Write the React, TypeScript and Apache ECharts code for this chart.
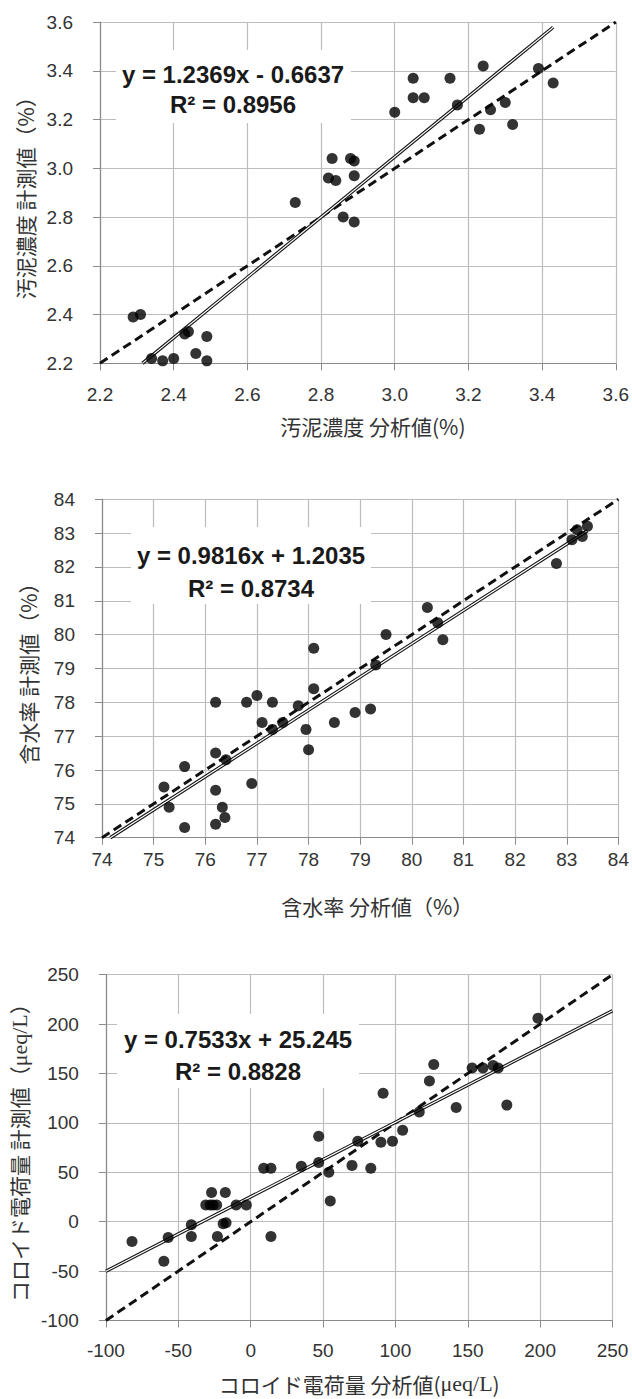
import React, { useEffect, useRef } from "react";
import * as echarts from "echarts";

// ---- Chart 1: 汚泥濃度 ----
const sludgeX = [2.29, 2.31, 2.34, 2.37, 2.40, 2.43, 2.44, 2.46, 2.49, 2.49, 2.73, 2.82, 2.83, 2.84, 2.86, 2.88, 2.89, 2.89, 2.89, 3.00, 3.05, 3.05, 3.08, 3.15, 3.17, 3.24, 3.23, 3.26, 3.30, 3.32, 3.39, 3.43];
const sludgeY = [2.39, 2.40, 2.22, 2.21, 2.22, 2.32, 2.33, 2.24, 2.31, 2.21, 2.86, 2.96, 3.04, 2.95, 2.80, 3.04, 3.03, 2.97, 2.78, 3.23, 3.37, 3.29, 3.29, 3.37, 3.26, 3.42, 3.16, 3.24, 3.27, 3.18, 3.41, 3.35];
const sludgeFit = [1.2369, -0.6637];
const sludgeR2 = "0.8956";
const sludgeFitRange = [2.315, 3.43];
const sludgeAxis = [2.2, 3.6, 0.2];

// ---- Chart 2: 含水率 ----
const waterX = [76.2, 76.8, 77.0, 77.3, 77.1, 77.3, 77.5, 77.8, 78.1, 77.95, 78.0, 78.5, 78.9, 79.2, 76.2, 76.4, 75.6, 75.2, 75.3, 75.6, 76.2, 76.9, 76.33, 76.38, 76.2, 78.1, 79.3, 79.5, 80.3, 80.5, 80.6, 82.8, 83.1, 83.2, 83.3, 83.4];
const waterY = [78.0, 78.0, 78.2, 78.0, 77.4, 77.2, 77.4, 77.9, 78.4, 77.2, 76.6, 77.4, 77.7, 77.8, 76.5, 76.3, 76.1, 75.5, 74.9, 74.3, 75.4, 75.6, 74.9, 74.6, 74.4, 79.6, 79.1, 80.0, 80.8, 80.35, 79.85, 82.1, 82.8, 83.1, 82.9, 83.2];
const waterFit = [0.9816, 1.2035];
const waterR2 = "0.8734";
const waterFitRange = [74.16, 83.4];
const waterAxis = [74, 84, 1];

// ---- Chart 3: コロイド電荷量 ----
const colloidX = [-82, -60, -57, -41, -41, -31, -28, -26, -23.5, -27, -17.5, -10, -3, -23, -19, -17, 9, 14, 14, 35, 47, 47, 54, 55, 70, 74, 83, 90, 91.5, 98, 105, 116.5, 123.5, 126.5, 142, 153, 160.5, 167.5, 171, 177, 198.5];
const colloidY = [-20, -40, -16, -3, -15, 17, 17, 17, 17, 29.5, 29.5, 17, 17, -15, -2, -1, 54, 54, -15, 56, 60, 86.5, 50, 21, 57, 81.5, 54, 80.5, 130, 81.5, 92.5, 111, 142.5, 159, 115.5, 155.5, 155.5, 158, 155.5, 118, 206];
const colloidFit = [0.7533, 25.245];
const colloidR2 = "0.8828";
const colloidFitRange = [-100, 250];
const colloidAxis = [-100, 250, 50];

const AXIS_COLOR = "#8a8a8a";
const GRID_COLOR = "#bcbcbc";
const LABEL_COLOR = "#333";
const LABEL_FONT = "Liberation Sans";
const CJK_FONT = "Noto Sans CJK JP";

function fmtEq(a: number, b: number) {
  const sign = b < 0 ? "-" : "+";
  return `y = ${a.toFixed(4)}x ${sign} ${Math.abs(b)}`;
}

export default function App() {
  const ref = useRef<HTMLDivElement>(null);
  useEffect(() => {
    document.body.style.margin = "0";
    const chart = echarts.init(ref.current!, undefined, { renderer: "svg" });

    const grids = [
      { left: 100, top: 22.1, width: 518.7, height: 341.2 },
      { left: 102, top: 499.2, width: 520, height: 338.5 },
      { left: 105, top: 974.7, width: 507.5, height: 345.8 },
    ];

    const sets = [
      { xs: sludgeX, ys: sludgeY, fit: sludgeFit, range: sludgeFitRange, ax: sludgeAxis, dec: 1 },
      { xs: waterX, ys: waterY, fit: waterFit, range: waterFitRange, ax: waterAxis, dec: 0 },
      { xs: colloidX, ys: colloidY, fit: colloidFit, range: colloidFitRange, ax: colloidAxis, dec: 0 },
    ];

    const cjk = { fontFamily: CJK_FONT, fontSize: 21, color: "#333" };
    const serif = { fontFamily: "Liberation Serif", fontSize: 22, color: "#333" };

    const xNames = [
      { name: "汚泥濃度 分析値(%)", gap: 22, pad: [0, 0, 0, 30] },
      { name: "含水率 分析値（%）", gap: 28, pad: [0, 0, 0, 34] },
      { name: "{a|コロイド電荷量 分析値(}{b|μeq/L}{a|)}", gap: 22, pad: [0, 0, 0, 0] },
    ];
    const xLabelMargin = [22, 12, 20];
    const yNames = [
      { name: "汚泥濃度 計測値（%）", gap: 65 },
      { name: "含水率 計測値（%）", gap: 64 },
      { name: "{a|コロイド電荷量 計測値（}{b|μeq/L}{a|）}", gap: 70 },
    ];

    const axisCommon = {
      axisLine: { show: true, onZero: false, lineStyle: { color: AXIS_COLOR, width: 1.2 } },
      axisTick: { show: true, length: 7, lineStyle: { color: AXIS_COLOR } },
      splitLine: { show: true, lineStyle: { color: GRID_COLOR, width: 1.2 } },
    };

    const xAxis = sets.map((s, i) => ({
      type: "value",
      gridIndex: i,
      min: s.ax[0],
      max: s.ax[1],
      interval: s.ax[2],
      ...axisCommon,
      axisLabel: {
        color: LABEL_COLOR,
        fontFamily: LABEL_FONT,
        fontSize: 19,
        margin: xLabelMargin[i],
        formatter: (v: number) => v.toFixed(s.dec),
      },
      name: xNames[i].name,
      nameLocation: "middle",
      nameGap: 30 + xNames[i].gap,
      nameTextStyle: { ...cjk, padding: xNames[i].pad, rich: { a: cjk, b: serif } },
    }));

    const yAxis = sets.map((s, i) => ({
      type: "value",
      gridIndex: i,
      min: s.ax[0],
      max: s.ax[1],
      interval: s.ax[2],
      ...axisCommon,
      axisLabel: {
        color: LABEL_COLOR,
        fontFamily: LABEL_FONT,
        fontSize: 19,
        margin: 27,
        formatter: (v: number) => v.toFixed(s.dec),
      },
      name: yNames[i].name,
      nameLocation: "middle",
      nameGap: yNames[i].gap,
      nameTextStyle: { ...cjk, rich: { a: cjk, b: serif } },
    }));

    const series: any[] = [];
    sets.forEach((s, i) => {
      const [a, b] = s.fit;
      const fitData = s.range.map((x) => [x, a * x + b]);
      const idData = [
        [s.ax[0], s.ax[0]],
        [s.ax[1], s.ax[1]],
      ];
      series.push({
        type: "line",
        xAxisIndex: i,
        yAxisIndex: i,
        data: idData,
        symbol: "none",
        lineStyle: { color: "#111", width: 3, type: [9, 5] },
        z: 3,
      });
      series.push({
        type: "line",
        xAxisIndex: i,
        yAxisIndex: i,
        data: fitData,
        symbol: "none",
        lineStyle: { color: "#111", width: 3.4 },
        z: 4,
      });
      series.push({
        type: "line",
        xAxisIndex: i,
        yAxisIndex: i,
        data: fitData,
        symbol: "none",
        lineStyle: { color: "#fff", width: 1.2 },
        z: 5,
      });
      series.push({
        type: "scatter",
        xAxisIndex: i,
        yAxisIndex: i,
        data: s.xs.map((x, k) => [x, s.ys[k]]),
        symbol: "circle",
        symbolSize: 11,
        itemStyle: { color: "#000" },
        z: 6,
      });
    });

    const boxes = [
      { x: 116, y: 50, w: 235, h: 73, cx: 233, l1: 74, l2: 104 },
      { x: 131, y: 527, w: 240, h: 77, cx: 251, l1: 555.5, l2: 588 },
      { x: 117, y: 1014, w: 242, h: 74, cx: 238, l1: 1039, l2: 1071 },
    ];
    const eqs = [
      [fmtEq(sludgeFit[0], sludgeFit[1]), `R² = ${sludgeR2}`],
      [fmtEq(waterFit[0], waterFit[1]), `R² = ${waterR2}`],
      [fmtEq(colloidFit[0], colloidFit[1]), `R² = ${colloidR2}`],
    ];
    const graphic: any[] = [];
    boxes.forEach((bx, i) => {
      graphic.push({
        type: "rect",
        z: 100,
        shape: { x: bx.x, y: bx.y, width: bx.w, height: bx.h },
        style: { fill: "#fff" },
      });
      [bx.l1, bx.l2].forEach((ly, j) => {
        graphic.push({
          type: "text",
          z: 101,
          x: bx.cx,
          y: ly,
          style: {
            text: eqs[i][j],
            fill: "#1a1a1a",
            font: `bold 24px "${LABEL_FONT}"`,
            align: "center",
            verticalAlign: "middle",
          },
        });
      });
    });

    chart.setOption({
      animation: false,
      backgroundColor: "#fff",
      grid: grids,
      xAxis,
      yAxis,
      series,
      graphic,
    });
    return () => chart.dispose();
  }, []);
  return <div ref={ref} style={{ width: 632, height: 1399 }} />;
}
